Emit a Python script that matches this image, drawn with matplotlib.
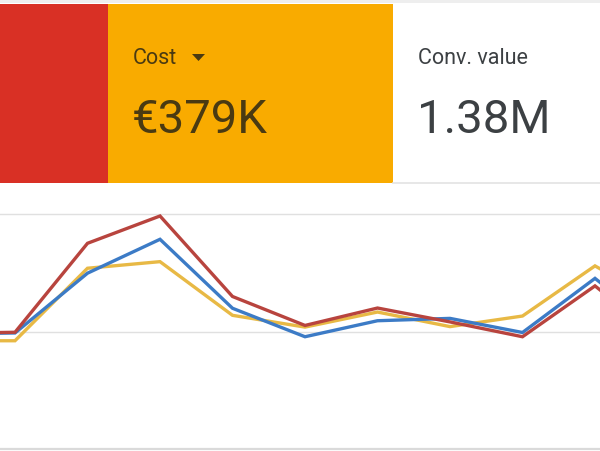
import matplotlib
matplotlib.use("Agg")
import matplotlib.pyplot as plt
from matplotlib.patches import Rectangle, Polygon
import numpy as np

plt.rcParams["font.family"] = ["Roboto", "DejaVu Sans"]

# scorecards
tile_labels = ["", "Cost", "Conv. value"]
tile_values = ["", "€379K", "1.38M"]
tile_colors = ["#D93025", "#F9AB00", "#FFFFFF"]
tile_edges = [0, 108, 393, 600]

# daily series (index -1 and 9 run past the visible plot edges)
days = np.arange(-1, 10)
red_series = [49.3, 49.8, 87.6, 99.2, 65.0, 52.7, 60.1, 54.2, 47.9, 69.5, 44.8]
blue_series = [49.1, 49.5, 74.9, 89.3, 60.0, 47.9, 54.7, 55.7, 49.7, 72.7, 48.2]
yellow_series = [46.2, 46.2, 77.0, 79.8, 57.0, 52.0, 58.4, 52.2, 56.7, 78.0, 60.5]
grid_values = [0, 50, 100]

W, H = 600, 451
fig = plt.figure(figsize=(W / 100, H / 100), dpi=100)
fig.patch.set_facecolor("white")

# background axes in pixel coordinates for the tiles
bg = fig.add_axes([0, 0, 1, 1])
bg.set_xlim(0, W)
bg.set_ylim(H, 0)
bg.axis("off")
bg.add_patch(Rectangle((0, 0), W, 3, color="#EEEEEE", lw=0))
for i, col in enumerate(tile_colors):
    x0, x1 = tile_edges[i], tile_edges[i + 1]
    bg.add_patch(Rectangle((x0, 4), x1 - x0, 179, color=col, lw=0))
bg.plot([tile_edges[2], W], [183, 183], color="#E3E3E3", lw=1.2)

txt_dark = ["#4A3A12", "#4A3A12", "#3C4043"]
for i in (1, 2):
    x0 = tile_edges[i] + 25
    bg.text(x0, 64, tile_labels[i], fontsize=15.5, color=txt_dark[i], va="baseline", ha="left")
    bg.text(x0 - 1, 133, tile_values[i], fontsize=34, color=txt_dark[i], va="baseline", ha="left")
bg.add_patch(Polygon([[192, 54], [205, 54], [198.5, 61]], closed=True, color="#4A3A12", lw=0))

# line chart
ax = fig.add_axes([0, 0, 1, 261 / H])
ax.set_xlim(-0.207, 8.069)
ax.set_ylim(-0.64, 110.24)
ax.axis("off")
for g in grid_values:
    ax.axhline(g, color="#DADADA" if g == 0 else "#E0E0E0", lw=1.6 if g == 0 else 1.0, zorder=1)
ax.plot(days, yellow_series, color="#E8B945", lw=2.4, zorder=3, solid_joinstyle="miter")
ax.plot(days, blue_series, color="#3C7BC6", lw=2.4, zorder=4, solid_joinstyle="miter")
ax.plot(days, red_series, color="#B8443E", lw=2.4, zorder=5, solid_joinstyle="miter")

fig.savefig("out.png", dpi=100)
